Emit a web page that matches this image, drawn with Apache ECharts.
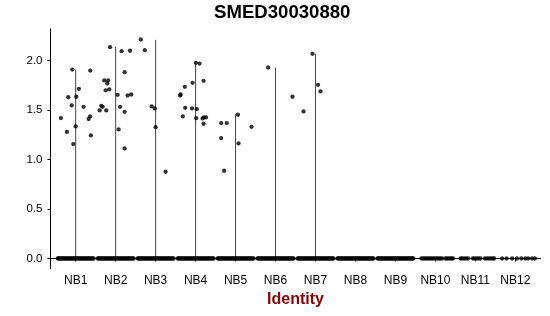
<!DOCTYPE html>
<html>
<head>
<meta charset="utf-8">
<script src="https://cdn.jsdelivr.net/npm/echarts@6/dist/echarts.min.js"></script>
<style>html,body{margin:0;padding:0;background:#fff}#c{width:550px;height:316px}</style>
</head>
<body>
<div id="c"></div>
<script>
// ---- data ----
const title = 'SMED30030880';
const xTitle = 'Identity';
const categories = ['NB1','NB2','NB3','NB4','NB5','NB6','NB7','NB8','NB9','NB10','NB11','NB12'];
const yTicks = [0, 0.5, 1.0, 1.5, 2.0];
// top of each (very thin) violin; null = no expressing cells
const violinMax = [1.91, 2.14, 2.21, 1.98, 1.46, 1.93, 2.07, null, null, null, null, null];
// non-zero cells: [jitter offset from category centre, expression]
const nb1 = [[-0.085,1.91],[0.365,1.90],[0.08,1.715],[-0.185,1.63],[0.015,1.635],[-0.1,1.547],[0.2,1.533],[-0.37,1.42],[0.36,1.436],[0.325,1.41],[0,1.335],[-0.22,1.28],[0.38,1.244],[-0.06,1.157]];
const nb2 = [[-0.14,2.136],[0.15,2.096],[0.36,2.10],[-0.285,1.80],[-0.19,1.80],[-0.21,1.77],[-0.25,1.70],[-0.16,1.71],[0.225,1.884],[0.05,1.655],[0.3,1.648],[0.39,1.658],[-0.36,1.543],[-0.325,1.533],[-0.4,1.497],[-0.235,1.497],[0.11,1.533],[0.225,1.483],[0.075,1.305],[0.225,1.113]];
const nb3 = [[-0.37,2.214],[-0.27,2.106],[-0.1,1.537],[-0.02,1.517],[0,1.328],[0.25,0.877]];
const nb4 = [[0.01,1.978],[0.1,1.97],[0.2,1.796],[-0.075,1.776],[-0.27,1.735],[-0.375,1.659],[-0.385,1.648],[-0.26,1.523],[-0.09,1.517],[0.03,1.51],[-0.32,1.436],[0.015,1.419],[0.175,1.416],[0.21,1.426],[0.26,1.426],[0.2,1.362]];
const nb5 = [[-0.36,1.369],[-0.22,1.369],[0.06,1.453],[0.4,1.331],[-0.36,1.217],[0.075,1.163],[-0.285,0.887]];
const nb6 = [[-0.185,1.931],[0.425,1.635]];
const nb7 = [[-0.075,2.069],[0.065,1.756],[0.125,1.689],[-0.3,1.487]];
const nonZero = [nb1, nb2, nb3, nb4, nb5, nb6, nb7, [], [], [], [], []];
// zero-expression cells: jitter offsets (value 0)
const zeroDense = [-0.45,-0.425,-0.4,-0.375,-0.35,-0.325,-0.3,-0.275,-0.25,-0.225,-0.2,-0.175,-0.15,-0.125,-0.1,-0.075,-0.05,-0.025,0,0.025,0.05,0.075,0.1,0.125,0.15,0.175,0.2,0.225,0.25,0.275,0.3,0.325,0.35,0.375,0.4,0.425,0.45];
const zeroNB10 = [-0.35,-0.31,-0.27,-0.23,-0.19,-0.15,-0.11,-0.07,-0.03,0.01,0.05,0.09,0.13,0.17,0.25,0.29,0.33,0.37,0.41,0.44];
const zeroNB11 = [-0.37,-0.33,-0.28,-0.23,-0.18,-0.06,-0.02,0.03,0.08,0.13,0.24,0.29,0.34,0.39,0.44,0.47];
const zeroNB12 = [-0.33,-0.22,-0.08,0.04,0.15,0.25,0.32,0.42,0.49];
const zeros = [zeroDense, zeroDense, zeroDense, zeroDense, zeroDense, zeroDense, zeroDense, zeroDense, zeroDense, zeroNB10, zeroNB11, zeroNB12];

// ---- build ----
const pts = [];
categories.forEach((c, i) => {
  const k = i + 1;
  zeros[i].forEach(o => pts.push([k + o, 0]));
  nonZero[i].forEach(p => pts.push([k + p[0], p[1]]));
});
const vl = [];
violinMax.forEach((m, i) => { if (m !== null) vl.push([i + 1, m]); });

const FONT = 'Liberation Sans, Arial, sans-serif';
const chart = echarts.init(document.getElementById('c'), null, {renderer: 'canvas'});
chart.setOption({
  animation: false,
  title: {
    text: title, left: 214, top: 3, padding: 0,
    textStyle: {fontFamily: FONT, fontWeight: 'bold', fontSize: 18.6, color: '#000'}
  },
  grid: {left: 50.5, right: 9.5, top: 29, bottom: 47.3, containLabel: false},
  xAxis: {
    type: 'value', min: 0.37, max: 12.63,
    name: xTitle, nameLocation: 'middle', nameGap: 23,
    nameTextStyle: {fontFamily: FONT, fontWeight: 'bold', fontSize: 16, color: '#8B0000'},
    axisLine: {show: true, lineStyle: {color: '#000', width: 1}},
    axisTick: {show: true, length: 3, lineStyle: {color: '#000'}, customValues: categories.map((c, i) => i + 1)},
    axisLabel: {show: true, margin: 6, fontFamily: FONT, fontSize: 12, color: '#000',
      customValues: categories.map((c, i) => i + 1),
      formatter: v => categories[Math.round(v) - 1]},
    splitLine: {show: false}
  },
  yAxis: {
    type: 'value', min: -0.103, max: 2.32,
    axisLine: {show: true, lineStyle: {color: '#000', width: 1}},
    axisTick: {show: true, length: 3, lineStyle: {color: '#000'}, customValues: yTicks},
    axisLabel: {show: true, margin: 8, fontFamily: FONT, fontSize: 11.5, color: '#000',
      customValues: yTicks, formatter: v => v.toFixed(1)},
    splitLine: {show: false}
  },
  series: [
    {
      type: 'custom',
      data: vl,
      renderItem: (params, api) => {
        const top = api.coord([api.value(0), api.value(1)]);
        const bot = api.coord([api.value(0), 0]);
        return {type: 'line', shape: {x1: top[0], y1: top[1], x2: bot[0], y2: bot[1]},
          style: {stroke: '#444', lineWidth: 1}};
      },
      silent: true, z: 1
    },
    {
      type: 'scatter', data: pts, symbol: 'circle', symbolSize: 4.3,
      itemStyle: {color: '#000'}, silent: true, z: 2
    }
  ]
});
</script>
</body>
</html>
